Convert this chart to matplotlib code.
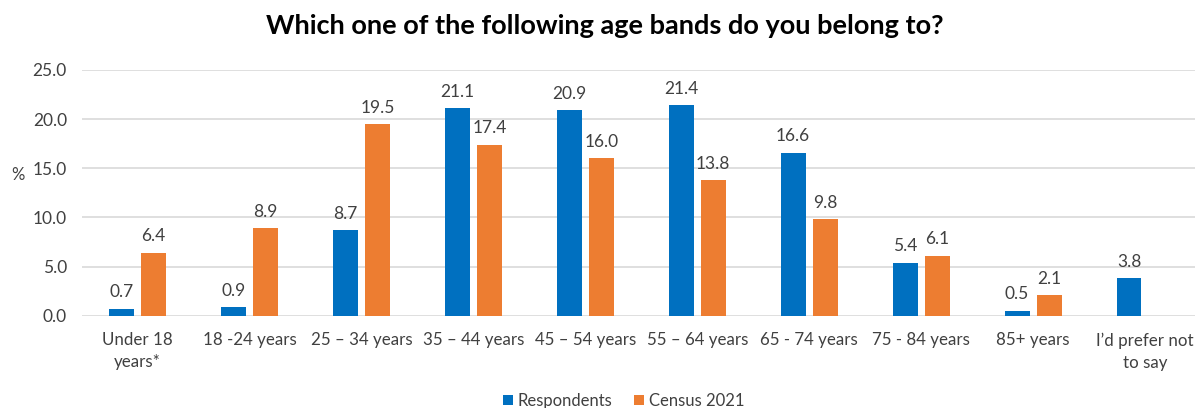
import matplotlib
matplotlib.use("Agg")
import matplotlib.pyplot as plt
import numpy as np

categories = ["Under 18\nyears*", "18 -24 years", "25 \u2013 34 years", "35 \u2013 44 years",
              "45 \u2013 54 years", "55 \u2013 64 years", "65 - 74 years", "75 - 84 years",
              "85+ years", "I\u2019d prefer not\nto say"]
respondents = [0.7, 0.9, 8.7, 21.1, 20.9, 21.4, 16.6, 5.4, 0.5, 3.8]
census = [6.4, 8.9, 19.5, 17.4, 16.0, 13.8, 9.8, 6.1, 2.1, None]
series_names = ["Respondents", "Census 2021"]
colors = ["#0070C0", "#ED7D31"]
title = "Which one of the following age bands do you belong to?"
yticks = [0, 5, 10, 15, 20, 25]

plt.rcParams['font.family'] = ['Lato', 'DejaVu Sans']
txt = "#404040"

fig = plt.figure(figsize=(11.95, 4.08), dpi=100)
ax = fig.add_axes([81.5/1195, 1-315.7/408, 1113.5/1195, (315.7-70)/408])

x = np.arange(len(categories))
bw = 0.223
off = 0.143
for vals, sign, col, name in [(respondents, -1, colors[0], series_names[0]),
                               (census, 1, colors[1], series_names[1])]:
    xs = [xi + sign*off for xi, v in zip(x, vals) if v is not None]
    vs = [v for v in vals if v is not None]
    bars = ax.bar(xs, vs, width=bw, color=col, label=name, zorder=3)
    for b, v in zip(bars, vs):
        ax.annotate(f"{v:.1f}", (b.get_x()+b.get_width()/2, v), xytext=(0, 6),
                    textcoords="offset points", ha="center", va="bottom",
                    fontsize=12.5, color=txt)

ax.set_ylim(0, 25)
ax.set_xlim(-0.5, 9.5 - 6/112)
ax.set_yticks(yticks)
ax.set_yticklabels([f"{t:.1f}" for t in yticks], fontsize=12.5, color=txt)
ax.set_xticks(x)
ax.set_xticklabels(categories, fontsize=12.2, color=txt, linespacing=1.45)
ax.tick_params(axis='both', length=0)
ax.tick_params(axis='y', pad=10.5)
ax.tick_params(axis='x', pad=12)
ax.grid(axis='y', color="#D9D9D9", linewidth=1.2, zorder=0)
for s in ax.spines.values():
    s.set_visible(False)

fig.text(18/1195, 1-175/408, "%", fontsize=12, color=txt, ha="center", va="center")
fig.text(605/1195, 1-26/408, title, fontsize=19.5, fontweight="bold", color="black",
         ha="center", va="center")

leg = fig.legend(loc="center", bbox_to_anchor=(623.5/1195, 1-401/408), ncol=2, frameon=False,
                 fontsize=12, handlelength=0.6, handleheight=0.6, handletextpad=0.3,
                 columnspacing=1.3, labelcolor=txt)

fig.savefig("out.png", dpi=100)
